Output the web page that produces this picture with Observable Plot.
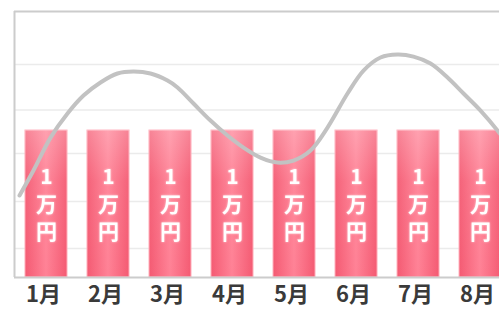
<!DOCTYPE html>
<html>
<head>
<meta charset="utf-8">
<script src="https://cdn.jsdelivr.net/npm/d3@7"></script>
<script src="https://cdn.jsdelivr.net/npm/@observablehq/plot@0.6"></script>
<style>
  html, body { margin: 0; padding: 0; background: #fff; overflow: hidden; }
  svg { display: block; }
</style>
</head>
<body>
<div id="chart"></div>
<script>
// Categories (month index) and labels
const months = [1, 2, 3, 4, 5, 6, 7, 8];
const monthLabels = ["1月", "2月", "3月", "4月", "5月", "6月", "7月", "8月"];
// Bar values (in 万円)
const barValues = [1, 1, 1, 1, 1, 1, 1, 1];
const barLabel = ["1", "万", "円"];
// Gridline values
const gridValues = [0.197, 0.517, 0.844, 1.14, 1.449];
// Smooth trend line samples (month position, value)
const lineX = [0.565, 0.79, 1.065, 1.339, 1.597, 1.871, 2.145, 2.403, 2.677, 2.952, 3.113, 3.371, 3.645, 3.919, 4.177, 4.452, 4.726, 4.984, 5.258, 5.532, 5.855, 6.113, 6.387, 6.661, 6.919, 7.194, 7.468, 7.726, 8.0, 8.274, 8.48];
const lineY = [0.558, 0.728, 0.952, 1.116, 1.238, 1.327, 1.388, 1.401, 1.388, 1.340, 1.293, 1.184, 1.068, 0.966, 0.884, 0.816, 0.782, 0.796, 0.864, 1.020, 1.252, 1.408, 1.497, 1.517, 1.503, 1.456, 1.361, 1.252, 1.136, 1.0, 0.878];

const bars = months.map((m, i) => ({m, label: monthLabels[i], v: barValues[i]}));
const line = lineX.map((x, i) => ({x, y: lineY[i]}));

const halfW = 0.339;
const xDomain = [0.484, 8.306];
const yDomain = [0, 1.81];
const font = "'Noto Sans CJK JP', 'Noto Sans', sans-serif";
const charDy = [47, 74.5, 102];

const plot = Plot.plot({
  width: 499,
  height: 311,
  marginLeft: 14,
  marginRight: 0,
  marginTop: 11,
  marginBottom: 34,
  style: {fontFamily: font, background: "#fff", overflow: "visible"},
  x: {domain: xDomain, axis: null},
  y: {domain: yDomain, axis: null},
  marks: [
    Plot.ruleY(gridValues, {stroke: "#ebebeb", strokeWidth: 1.5}),
    Plot.rectY(bars, {x1: d => d.m - halfW, x2: d => d.m + halfW, y1: 0, y2: "v", fill: "#f7687d", stroke: "#ffb3be", strokeWidth: 1}),
    Plot.rectY(bars, {x1: d => d.m - halfW, x2: d => d.m + halfW, y1: 0, y2: "v", fill: "#ffffff", fillOpacity: 0}),
    ...barLabel.map((t, j) => Plot.text(bars, {x: "m", y: "v", text: () => t, dy: charDy[j], fill: "white", fontSize: 21, fontWeight: "bold"})),
    Plot.line(line, {x: "x", y: "y", curve: "catmull-rom", stroke: "#c2c2c2", strokeWidth: 4, strokeLinecap: "round", clip: true}),
    Plot.ruleY([0], {stroke: "#cccccc", strokeWidth: 2}),
    Plot.ruleY([yDomain[1]], {stroke: "#cccccc", strokeWidth: 2}),
    Plot.ruleX([xDomain[0]], {stroke: "#cccccc", strokeWidth: 2}),
    Plot.text(bars, {x: "m", text: "label", frameAnchor: "bottom", dy: 24, dx: -3, fill: "#3a3a3a", fontSize: 22, fontWeight: "bold"})
  ]
});

// gradients
const svg = d3.select(plot);
const defs = svg.insert("defs", ":first-child");
const g1 = defs.append("linearGradient").attr("id", "barGrad").attr("x1", "0").attr("x2", "1").attr("y1", "0").attr("y2", "0");
g1.append("stop").attr("offset", "0").attr("stop-color", "#f45a72");
g1.append("stop").attr("offset", "0.5").attr("stop-color", "#ff8296");
g1.append("stop").attr("offset", "1").attr("stop-color", "#f45a72");
const g2 = defs.append("linearGradient").attr("id", "sheen").attr("x1", "0").attr("x2", "0").attr("y1", "0").attr("y2", "1");
g2.append("stop").attr("offset", "0").attr("stop-color", "#fff").attr("stop-opacity", 0.25);
g2.append("stop").attr("offset", "0.35").attr("stop-color", "#fff").attr("stop-opacity", 0.05);
g2.append("stop").attr("offset", "1").attr("stop-color", "#fff").attr("stop-opacity", 0);
const rectGroups = svg.selectAll("g[aria-label=rect]").nodes();
if (rectGroups[0]) d3.select(rectGroups[0]).attr("fill", null).selectAll("rect").attr("fill", "url(#barGrad)");
if (rectGroups[1]) d3.select(rectGroups[1]).attr("fill", null).attr("fill-opacity", null).selectAll("rect").attr("fill", "url(#sheen)");
const textGroups = svg.selectAll("g[aria-label=text]").nodes();
textGroups.slice(0, 3).forEach(g => d3.select(g).style("filter", "drop-shadow(0 0 1px rgba(255,255,255,0.6))"));

document.getElementById("chart").appendChild(plot);
</script>
</body>
</html>
